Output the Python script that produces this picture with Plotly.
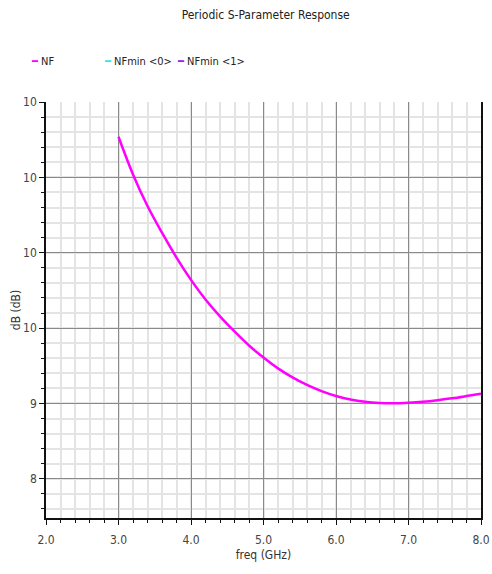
import plotly.graph_objects as go

# Data
freq_ghz = [3.0, 3.2, 3.4, 3.6, 3.8, 4.0, 4.2, 4.4, 4.6, 4.8, 5.0, 5.2, 5.4,
            5.6, 5.8, 6.0, 6.2, 6.4, 6.6, 6.8, 7.0, 7.2, 7.4, 7.6, 7.8, 8.0]
nf_db = [12.54, 12.04, 11.62, 11.266, 10.936, 10.64, 10.38, 10.156, 9.956, 9.77, 9.61, 9.466, 9.346,
         9.246, 9.164, 9.10, 9.052, 9.022, 9.006, 9.002, 9.01, 9.024, 9.044, 9.068, 9.098, 9.13]

x_ticks = [2.0, 3.0, 4.0, 5.0, 6.0, 7.0, 8.0]
y_ticks = [8, 9, 10, 11, 12, 13]
y_ticktext = ["8", "9", "10", "10", "10", "10"]

legend_names = ["NF", "NFmin <0>", "NFmin <1>"]
legend_colors = ["#FF00FF", "#33E6F0", "#A020F0"]
legend_x = [-0.04, 0.128, 0.296]

FONT = "DejaVu Sans Condensed, Liberation Sans Narrow, Roboto Condensed, DejaVu Sans, sans-serif"

fig = go.Figure()
fig.add_trace(go.Scatter(x=freq_ghz, y=nf_db, mode="lines",
                         line=dict(color=legend_colors[0], width=2.5, shape="spline", smoothing=1.0),
                         name=legend_names[0], showlegend=False))

# legend drawn as annotations
for nm, col, lx in zip(legend_names, legend_colors, legend_x):
    fig.add_annotation(xref="paper", yref="paper", x=lx, y=1.097, xanchor="left", yanchor="middle",
                       text=f'<span style="color:{col}">━</span> {nm}', showarrow=False,
                       font=dict(family=FONT, size=11, color="#222222"))

fig.update_layout(
    width=492, height=574,
    margin=dict(l=46, r=11, t=102, b=56),
    paper_bgcolor="white", plot_bgcolor="white",
    title=dict(text="Periodic S-Parameter Response", x=0.54, xanchor="center", y=0.975, yanchor="middle",
               font=dict(family=FONT, size=12, color="#222222")),
    font=dict(family=FONT, size=12, color="#444444"),
    showlegend=False,
)

fig.update_xaxes(range=[2.0, 8.0], tickvals=x_ticks, ticktext=[f"{v:.1f}" for v in x_ticks],
                 automargin=False,
                 showgrid=True, gridcolor="#8a8a8a", gridwidth=1,
                 showline=True, linecolor="#111111", linewidth=1.5,
                 ticks="outside", ticklen=5, tickcolor="#111111", ticklabelstandoff=5,
                 minor=dict(dtick=0.2, showgrid=True, gridcolor="#e4e4e4", gridwidth=1.5,
                            ticks="outside", ticklen=3, tickcolor="#111111"),
                 zeroline=False,
                 title=dict(text="freq (GHz)", standoff=4, font=dict(family=FONT, size=12, color="#333333")),
                 tickfont=dict(family=FONT, size=12, color="#444444"))

fig.update_yaxes(range=[7.48, 13.001], tickvals=y_ticks, ticktext=y_ticktext,
                 automargin=False,
                 showgrid=True, gridcolor="#8a8a8a", gridwidth=1,
                 showline=True, linecolor="#111111", linewidth=1.5, mirror=True,
                 ticks="outside", ticklen=5, tickcolor="#111111",
                 minor=dict(dtick=0.2, tick0=8, showgrid=True, gridcolor="#e4e4e4", gridwidth=1.5,
                            ticks="outside", ticklen=3, tickcolor="#111111"),
                 zeroline=False,
                 title=dict(text="dB (dB)", standoff=0, font=dict(family=FONT, size=12, color="#333333")),
                 tickfont=dict(family=FONT, size=12, color="#444444"))

fig.write_html("out.html")
